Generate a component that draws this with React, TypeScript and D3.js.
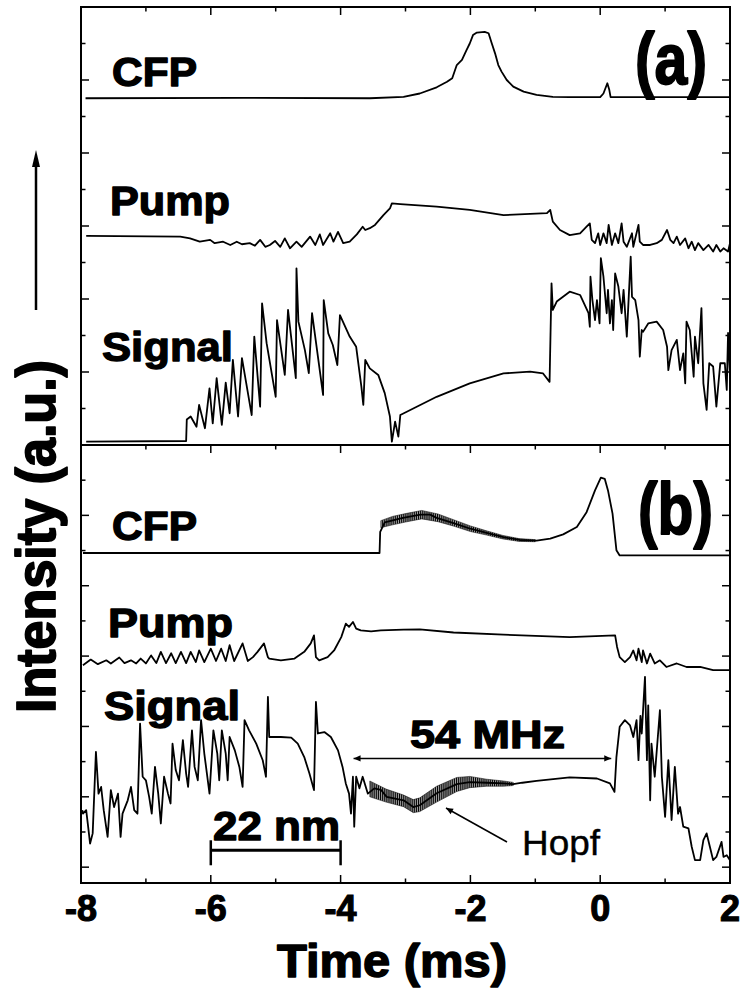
import React from "react";
import * as d3 from "d3";

type P = [number, number];

// ---------- axis data ----------
const xMajor = [-8, -6, -4, -2, 0, 2];
const xMajorLabels = ["-8", "-6", "-4", "-2", "0", "2"];
const xMinor = [-7, -5, -3, -1, 1];
const yTicksA = [1, 2, 3, 4, 5, 6, 7, 8, 9, 10, 11];
const yTicksB = [0, 1, 2, 3, 4, 5, 6, 7, 8, 9, 10, 11];

// ---------- panel (a) ----------
const cfpA: P[] = [
  [-7.93, 9.5], [-5.5, 9.51], [-3.55, 9.5], [-3.03, 9.54], [-2.78, 9.63], [-2.52, 9.8],
  [-2.36, 9.95], [-2.28, 10.05], [-2.21, 10.41], [-2.13, 10.55], [-2.06, 10.82], [-2.01, 11.0],
  [-1.96, 11.23], [-1.9, 11.3], [-1.78, 11.32], [-1.72, 11.28], [-1.67, 11.0], [-1.62, 10.73],
  [-1.57, 10.41], [-1.52, 10.23], [-1.44, 10.0], [-1.34, 9.82], [-1.18, 9.68], [-0.98, 9.59],
  [-0.73, 9.54], [-0.47, 9.53], [0.0, 9.53], [0.05, 9.63], [0.11, 9.91], [0.14, 9.73],
  [0.16, 9.53], [2.0, 9.53],
];

const pumpA: P[] = [
  [-7.92, 5.73], [-6.47, 5.71], [-6.32, 5.66], [-6.17, 5.57], [-6.01, 5.62], [-5.94, 5.53],
  [-5.81, 5.57], [-5.7, 5.48], [-5.6, 5.57], [-5.52, 5.5], [-5.4, 5.53], [-5.32, 5.46],
  [-5.24, 5.62], [-5.16, 5.43], [-5.09, 5.48], [-5.01, 5.59], [-4.93, 5.43], [-4.86, 5.66],
  [-4.78, 5.39], [-4.68, 5.57], [-4.6, 5.43], [-4.47, 5.71], [-4.39, 5.48], [-4.32, 5.77],
  [-4.27, 5.48], [-4.16, 5.8], [-4.11, 5.57], [-4.04, 5.84], [-3.96, 5.53], [-3.86, 5.57],
  [-3.75, 5.77], [-3.66, 5.98], [-3.62, 5.89], [-3.55, 5.94], [-3.47, 6.03], [-3.34, 6.3],
  [-3.24, 6.48], [-3.21, 6.62], [-3.08, 6.6], [-2.52, 6.53], [-2.01, 6.44], [-1.49, 6.3],
  [-0.82, 6.35], [-0.77, 6.44], [-0.73, 6.12], [-0.62, 5.89], [-0.47, 5.75], [-0.31, 5.8],
  [-0.21, 5.98], [-0.16, 6.07], [-0.13, 5.62], [-0.08, 5.53], [-0.03, 5.8], [0.0, 5.48],
  [0.05, 5.8], [0.1, 5.53], [0.13, 6.03], [0.18, 5.48], [0.23, 5.8], [0.28, 5.53],
  [0.33, 6.07], [0.36, 5.57], [0.41, 5.43], [0.49, 5.8], [0.51, 5.43], [0.59, 6.03],
  [0.61, 5.57], [0.66, 5.48], [0.77, 5.48], [0.87, 5.53], [0.95, 5.62], [1.03, 5.89],
  [1.08, 5.62], [1.13, 5.53], [1.18, 5.71], [1.23, 5.48], [1.31, 5.66], [1.36, 5.39],
  [1.41, 5.57], [1.46, 5.34], [1.51, 5.53], [1.59, 5.34], [1.67, 5.48], [1.74, 5.3],
  [1.79, 5.48], [1.85, 5.3], [1.9, 5.39], [1.97, 5.3], [2.0, 5.53],
];

const signalA: P[] = [
  [-7.92, 0.09], [-6.38, 0.11], [-6.37, 0.7], [-6.31, 0.78], [-6.22, 0.5], [-6.18, 1.1],
  [-6.09, 0.46], [-6.02, 1.55], [-5.97, 0.59], [-5.91, 1.83], [-5.83, 0.55], [-5.77, 1.71],
  [-5.71, 0.87], [-5.66, 2.33], [-5.58, 0.78], [-5.52, 2.38], [-5.37, 0.82], [-5.33, 2.97],
  [-5.24, 1.05], [-5.21, 3.88], [-5.14, 2.79], [-5.0, 1.32], [-4.98, 3.42], [-4.86, 1.92],
  [-4.81, 3.7], [-4.69, 1.83], [-4.68, 4.84], [-4.65, 3.38], [-4.55, 2.6], [-4.49, 1.97],
  [-4.44, 3.61], [-4.27, 1.37], [-4.26, 3.97], [-4.19, 3.06], [-4.12, 2.74], [-4.05, 2.19],
  [-4.01, 3.56], [-3.86, 2.97], [-3.76, 2.69], [-3.68, 1.6], [-3.65, 1.1], [-3.62, 2.33],
  [-3.55, 2.1], [-3.42, 1.92], [-3.32, 1.42], [-3.24, 0.78], [-3.21, 0.09], [-3.16, 0.64],
  [-3.11, 0.23], [-3.08, 0.82], [-2.98, 0.91], [-2.52, 1.32], [-2.01, 1.69], [-1.49, 1.96],
  [-1.08, 2.01], [-0.88, 1.96], [-0.78, 1.73], [-0.75, 4.43], [-0.73, 3.7], [-0.67, 3.93],
  [-0.47, 4.2], [-0.31, 4.11], [-0.18, 3.61], [-0.16, 3.24], [-0.15, 4.61], [-0.12, 3.97],
  [-0.08, 3.42], [-0.05, 3.97], [-0.01, 3.33], [0.01, 5.12], [0.05, 4.61], [0.1, 3.61],
  [0.12, 4.25], [0.15, 3.33], [0.18, 3.97], [0.2, 3.15], [0.23, 4.7], [0.28, 4.34],
  [0.33, 3.61], [0.36, 4.25], [0.41, 2.97], [0.47, 5.16], [0.49, 4.06], [0.54, 3.97],
  [0.59, 3.42], [0.61, 2.42], [0.64, 3.15], [0.66, 3.1], [0.74, 3.33], [0.87, 3.38],
  [0.97, 3.15], [1.03, 2.69], [1.05, 2.05], [1.1, 2.6], [1.18, 2.88], [1.23, 2.05],
  [1.28, 2.51], [1.31, 1.69], [1.33, 3.38], [1.38, 3.15], [1.44, 1.87], [1.46, 2.97],
  [1.51, 2.24], [1.56, 3.75], [1.59, 1.69], [1.64, 0.96], [1.68, 2.24], [1.74, 2.15],
  [1.79, 1.05], [1.85, 2.24], [1.92, 2.24], [1.95, 1.51], [1.97, 3.07], [2.0, 1.87],
];

// ---------- panel (b) ----------
const cfpB: P[] = [
  [-7.97, 8.93], [-3.4, 8.93], [-3.39, 9.53], [-3.32, 9.8], [-3.04, 9.93], [-2.77, 10.02],
  [-2.62, 10.02], [-2.52, 9.93], [-2.26, 9.78], [-2.0, 9.62], [-1.75, 9.5], [-1.49, 9.38],
  [-1.24, 9.3], [-0.98, 9.28], [-0.77, 9.34], [-0.57, 9.46], [-0.36, 9.67], [-0.21, 10.09],
  [-0.08, 10.71], [0.01, 11.07], [0.07, 11.04], [0.12, 10.71], [0.19, 10.05], [0.25, 9.01],
  [0.3, 8.86], [2.0, 8.86],
];
// envelope of the fast oscillation on CFP (b)
const cfpBBandT = [-3.38, -3.2, -3.0, -2.75, -2.5, -2.25, -2.0, -1.75, -1.5, -1.25, -1.0];
const cfpBBandHi = [9.85, 9.97, 10.05, 10.14, 10.04, 9.87, 9.7, 9.56, 9.43, 9.34, 9.31];
const cfpBBandLo = [9.65, 9.73, 9.81, 9.9, 9.82, 9.69, 9.54, 9.44, 9.33, 9.26, 9.25];

const pumpB: P[] = [
  [-7.97, 5.74], [-7.85, 5.9], [-7.74, 5.77], [-7.61, 5.88], [-7.54, 5.79], [-7.41, 5.96],
  [-7.33, 5.8], [-7.23, 5.88], [-7.15, 5.79], [-7.08, 5.93], [-7.0, 5.79], [-6.92, 6.02],
  [-6.84, 5.8], [-6.77, 6.12], [-6.69, 5.8], [-6.61, 6.08], [-6.54, 5.8], [-6.46, 6.12],
  [-6.38, 5.8], [-6.31, 6.12], [-6.23, 5.83], [-6.18, 6.16], [-6.1, 5.83], [-6.0, 6.21],
  [-5.92, 5.86], [-5.84, 6.21], [-5.77, 5.86], [-5.71, 6.31], [-5.64, 5.86], [-5.51, 6.36],
  [-5.43, 5.86], [-5.35, 5.97], [-5.28, 6.12], [-5.18, 6.36], [-5.12, 5.97], [-5.1, 5.93],
  [-4.92, 5.88], [-4.71, 5.93], [-4.56, 6.12], [-4.46, 6.36], [-4.41, 6.59], [-4.38, 5.97],
  [-4.33, 5.88], [-4.2, 5.97], [-4.1, 6.16], [-3.99, 6.54], [-3.92, 6.92], [-3.87, 6.83],
  [-3.81, 6.97], [-3.76, 6.78], [-3.69, 6.73], [-3.53, 6.7], [-3.38, 6.73], [-3.03, 6.75],
  [-2.78, 6.76], [-2.26, 6.67], [-1.49, 6.61], [-0.47, 6.54], [0.23, 6.59], [0.26, 6.26],
  [0.3, 5.97], [0.38, 5.83], [0.46, 5.97], [0.51, 6.16], [0.56, 5.88], [0.59, 6.21],
  [0.64, 5.83], [0.66, 6.16], [0.72, 5.79], [0.77, 6.07], [0.84, 5.79], [0.92, 5.88],
  [1.02, 5.69], [1.18, 5.79], [1.33, 5.69], [1.54, 5.69], [1.74, 5.6], [2.0, 5.6],
];

const signalB: P[] = [
  [-7.98, 1.62], [-7.97, 1.52], [-7.92, 1.62], [-7.89, 1.15], [-7.86, 0.67], [-7.82, 0.96],
  [-7.77, 3.28], [-7.73, 2.09], [-7.69, 2.28], [-7.65, 1.62], [-7.59, 0.86], [-7.54, 2.19],
  [-7.49, 1.71], [-7.43, 2.09], [-7.39, 0.86], [-7.36, 1.52], [-7.28, 1.9], [-7.23, 2.28],
  [-7.18, 1.62], [-7.13, 1.52], [-7.09, 4.08], [-7.05, 2.57], [-7.0, 2.47], [-6.95, 2.0],
  [-6.91, 1.52], [-6.86, 2.85], [-6.81, 2.09], [-6.77, 1.24], [-6.72, 2.57], [-6.66, 2.09],
  [-6.62, 1.81], [-6.59, 3.51], [-6.54, 2.76], [-6.49, 2.47], [-6.43, 3.61], [-6.38, 2.66],
  [-6.35, 2.28], [-6.29, 3.89], [-6.25, 2.85], [-6.2, 2.47], [-6.15, 4.18], [-6.1, 3.23],
  [-6.02, 2.09], [-5.96, 3.89], [-5.9, 3.23], [-5.87, 2.47], [-5.83, 3.89], [-5.77, 3.23],
  [-5.74, 2.47], [-5.71, 3.7], [-5.63, 3.32], [-5.56, 2.85], [-5.51, 2.28], [-5.48, 4.18],
  [-5.41, 3.89], [-5.3, 3.51], [-5.2, 3.04], [-5.15, 2.57], [-5.12, 4.84], [-5.1, 3.7],
  [-4.92, 3.7], [-4.76, 3.68], [-4.66, 3.51], [-4.56, 3.13], [-4.48, 2.66], [-4.41, 2.19],
  [-4.38, 4.7], [-4.35, 3.8], [-4.25, 3.84], [-4.15, 3.7], [-4.04, 3.32], [-3.97, 2.85],
  [-3.92, 2.38], [-3.87, 2.09], [-3.84, 1.52], [-3.81, 2.57], [-3.79, 1.15], [-3.76, 2.57],
  [-3.71, 2.24], [-3.66, 2.57], [-3.58, 2.09], [-3.48, 2.24], [-3.38, 2.2], [-3.29, 2.0],
  [-3.03, 1.9], [-2.88, 1.71], [-2.78, 1.76], [-2.52, 2.1], [-2.21, 2.36], [-2.01, 2.42],
  [-1.75, 2.4], [-1.49, 2.38], [-1.34, 2.36], [-1.2, 2.4], [-0.98, 2.45], [-0.47, 2.55],
  [-0.05, 2.52], [0.15, 2.38], [0.22, 2.14], [0.25, 3.13], [0.3, 3.99], [0.38, 4.18],
  [0.46, 4.03], [0.51, 3.7], [0.56, 4.18], [0.59, 3.04], [0.62, 4.3], [0.64, 3.8],
  [0.69, 5.41], [0.72, 3.04], [0.74, 4.6], [0.77, 1.9], [0.79, 3.51], [0.84, 2.57],
  [0.92, 4.46], [0.95, 2.57], [1.0, 1.43], [1.05, 3.04], [1.1, 1.34], [1.15, 2.85],
  [1.2, 1.52], [1.23, 1.71], [1.28, 1.15], [1.36, 1.1], [1.41, 0.58], [1.46, 0.2],
  [1.54, 0.2], [1.59, 0.77], [1.64, 0.96], [1.69, 0.58], [1.74, 0.2], [1.79, 0.29],
  [1.87, 0.72], [1.9, 0.29], [1.95, 0.34], [2.0, 0.2],
];
// envelope of the Hopf oscillation on Signal (b)
const hopfBandT = [-3.55, -3.3, -3.03, -2.88, -2.78, -2.52, -2.21, -2.01, -1.75, -1.49, -1.34];
const hopfBandHi = [2.45, 2.22, 2.05, 1.92, 1.97, 2.3, 2.55, 2.58, 2.5, 2.45, 2.41];
const hopfBandLo = [2.0, 1.85, 1.72, 1.55, 1.58, 1.85, 2.15, 2.26, 2.3, 2.3, 2.32];

// annotations (data coords of panel b)
const barStart = -6, barEnd = -4, barV = 0.48;
const mhzStart = -3.8, mhzEnd = 0.17, mhzV = 3.09;

// ---------- layout ----------
const W = 741, H = 991;
const L = 81, R = 730;
const aTop = 7, aBot = 445, bTop = 445, bBot = 883;
const FONT = "'Liberation Sans', Arial, Helvetica, sans-serif";

export default function App() {
  const x = d3.scaleLinear().domain([-8, 2]).range([L, R]);
  const ya = d3.scaleLinear().domain([0, 12]).range([aBot, aTop]);
  const yb = d3.scaleLinear().domain([-0.45, 12]).range([bBot, bTop]);
  const lineA = d3.line<P>().x((d) => x(d[0])).y((d) => ya(d[1]));
  const lineB = d3.line<P>().x((d) => x(d[0])).y((d) => yb(d[1]));
  const band = d3
    .area<[number, number, number]>()
    .x((d) => x(d[0]))
    .y0((d) => yb(d[1]))
    .y1((d) => yb(d[2]));
  const cfpBand = cfpBBandT.map((t, i) => [t, cfpBBandLo[i], cfpBBandHi[i]] as [number, number, number]);
  const hopfBand = hopfBandT.map((t, i) => [t, hopfBandLo[i], hopfBandHi[i]] as [number, number, number]);

  const tick = { stroke: "#000", strokeWidth: 1.5 };
  const MJ = 8, MN = 4.5;

  const xTickMarks = (yy: number, dir: number, key: string) => (
    <g key={key}>
      {xMajor.map((v) => (
        <line key={"M" + v} x1={x(v)} x2={x(v)} y1={yy} y2={yy + dir * MJ} {...tick} />
      ))}
      {xMinor.map((v) => (
        <line key={"m" + v} x1={x(v)} x2={x(v)} y1={yy} y2={yy + dir * MN} {...tick} />
      ))}
    </g>
  );
  const yTickMarks = (ys: d3.ScaleLinear<number, number>, vals: number[], key: string) => (
    <g key={key}>
      {vals.map((v) => {
        const len = v % 2 === 0 ? MJ : MN;
        return (
          <g key={v}>
            <line x1={L} x2={L + len} y1={ys(v)} y2={ys(v)} {...tick} />
            <line x1={R} x2={R - len} y1={ys(v)} y2={ys(v)} {...tick} />
          </g>
        );
      })}
    </g>
  );

  const lbl = (txt: string, xx: number, yy: number, len: number, size = 40, sw = 1.3) => (
    <text
      x={xx}
      y={yy}
      fontFamily={FONT}
      fontWeight="bold"
      fontSize={size}
      textLength={len}
      lengthAdjust="spacingAndGlyphs"
      stroke="#000"
      strokeWidth={sw}
      strokeLinejoin="round"
    >
      {txt}
    </text>
  );

  const trace = { fill: "none", stroke: "#000", strokeWidth: 1.8, strokeLinejoin: "round" as const };

  return (
    <svg
      width={W}
      height={H}
      viewBox={`0 0 ${W} ${H}`}
      style={{ position: "absolute", left: 0, top: 0, background: "#fff" }}
    >
      <defs>
        <marker id="ah" viewBox="0 0 10 10" refX="10" refY="5" markerWidth="11" markerHeight="7" orient="auto-start-reverse" markerUnits="userSpaceOnUse">
          <path d="M0,0.5 L10,5 L0,9.5 z" fill="#000" />
        </marker>
        <pattern id="hatch" width="1.9" height="6" patternUnits="userSpaceOnUse">
          <rect x={0} y={0} width={1.3} height={6} fill="#000" />
        </pattern>
      </defs>
      <rect x={0} y={0} width={W} height={H} fill="#fff" />

      {/* frames */}
      <rect x={L} y={aTop} width={R - L} height={aBot - aTop} fill="none" stroke="#000" strokeWidth={2} />
      <rect x={L} y={bTop} width={R - L} height={bBot - bTop} fill="none" stroke="#000" strokeWidth={2} />

      {xTickMarks(aTop, 1, "xa")}
      {xTickMarks(bTop, 1, "xb")}
      {xTickMarks(bBot, -1, "xbb")}
      {yTickMarks(ya, yTicksA, "ya")}
      {yTickMarks(yb, yTicksB, "yb")}

      {/* traces panel a */}
      <path d={lineA(cfpA) || ""} {...trace} />
      <path d={lineA(pumpA) || ""} {...trace} />
      <path d={lineA(signalA) || ""} {...trace} />

      {/* traces panel b */}
      <path d={band(cfpBand) || ""} fill="url(#hatch)" stroke="#000" strokeWidth={0.5} />
      <path d={lineB(cfpB) || ""} {...trace} />
      <path d={lineB(pumpB) || ""} {...trace} />
      <path d={band(hopfBand) || ""} fill="url(#hatch)" stroke="#000" strokeWidth={0.5} />
      <path d={lineB(signalB) || ""} {...trace} />

      {/* trace labels */}
      {lbl("CFP", 112, 86, 85)}
      {lbl("Pump", 110, 215, 120)}
      {lbl("Signal", 102, 361, 131)}
      {lbl("CFP", 112, 540, 85)}
      {lbl("Pump", 108, 637, 125)}
      {lbl("Signal", 104, 720, 136)}

      {/* panel tags */}
      {lbl("(a)", 635, 84, 72, 72, 1.8)}
      {lbl("(b)", 638, 534, 75, 72, 1.8)}

      {/* 22 nm scale bar */}
      <line x1={x(barStart)} x2={x(barEnd)} y1={yb(barV)} y2={yb(barV)} stroke="#000" strokeWidth={3} />
      <line x1={x(barStart)} x2={x(barStart)} y1={yb(barV) - 10} y2={yb(barV) + 15} stroke="#000" strokeWidth={2.5} />
      <line x1={x(barEnd)} x2={x(barEnd)} y1={yb(barV) - 10} y2={yb(barV) + 15} stroke="#000" strokeWidth={2.5} />
      {lbl("22 nm", 213, 840, 127)}

      {/* 54 MHz arrow */}
      <line
        x1={x(mhzStart)}
        x2={x(mhzEnd)}
        y1={yb(mhzV)}
        y2={yb(mhzV)}
        stroke="#000"
        strokeWidth={1.5}
        markerStart="url(#ah)"
        markerEnd="url(#ah)"
      />
      {lbl("54 MHz", 410, 748, 155, 38)}

      {/* Hopf annotation */}
      <line x1={507} y1={842} x2={446} y2={808} stroke="#000" strokeWidth={1.5} markerEnd="url(#ah)" />
      <text x={522} y={855} fontFamily={FONT} fontSize={35} textLength={78} lengthAdjust="spacingAndGlyphs" stroke="#000" strokeWidth={0.4}>
        Hopf
      </text>

      {/* x tick labels */}
      {xMajor.map((v, i) => (
        <text key={v} x={x(v)} y={921} textAnchor="middle" fontFamily={FONT} fontWeight="bold" fontSize={36} stroke="#000" strokeWidth={1.1}>
          {xMajorLabels[i]}
        </text>
      ))}
      {lbl("Time (ms)", 277, 977, 230, 47, 1.5)}

      {/* y label with arrow */}
      <text
        transform="translate(55,713) rotate(-90)"
        fontFamily={FONT}
        fontWeight="bold"
        fontSize={56}
        textLength={353}
        lengthAdjust="spacingAndGlyphs"
        stroke="#000"
        strokeWidth={1.8}
        strokeLinejoin="round"
      >
        Intensity (a.u.)
      </text>
      <line x1={36} x2={36} y1={310} y2={164} stroke="#000" strokeWidth={2.5} />
      <path d="M36,150 L32,167 L40,167 z" fill="#000" />
    </svg>
  );
}
